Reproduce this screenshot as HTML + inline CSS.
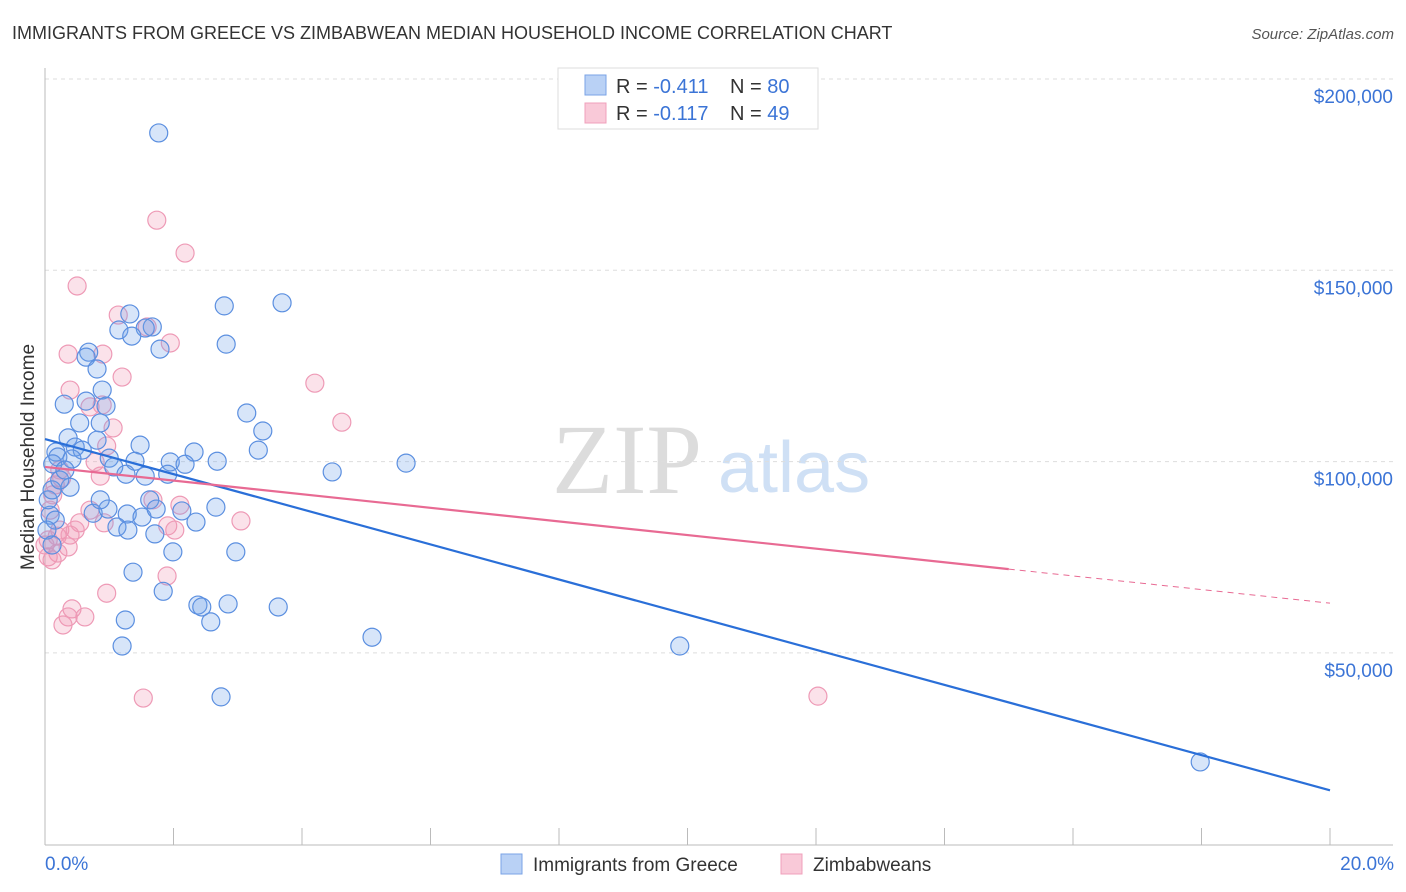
<!DOCTYPE html>
<html><head><meta charset="utf-8"><style>
body{margin:0;background:#fff;font-family:"Liberation Sans",sans-serif}
svg{display:block}
</style></head><body>
<svg width="1406" height="892">
<text x="12" y="39" font-size="18" fill="#333">IMMIGRANTS FROM GREECE VS ZIMBABWEAN MEDIAN HOUSEHOLD INCOME CORRELATION CHART</text>
<text x="1394" y="39" font-size="15" fill="#555" font-style="italic" text-anchor="end">Source: ZipAtlas.com</text>
<g>
<text x="552" y="493" font-family="Liberation Serif,serif" font-size="100" fill="#dcdcdc">ZIP</text>
<text x="718" y="492" font-size="72" fill="#cfe0f5">atlas</text>
</g>
<g id="grid"></g>
<line x1="45" y1="68" x2="45" y2="845" stroke="#bbb"/>
<line x1="45" y1="845" x2="1393" y2="845" stroke="#bbb"/>
<g id="ticks"></g>
<text x="45" y="870" font-size="19" fill="#3b74d6">0.0%</text>
<text x="1394" y="870" font-size="19" fill="#3b74d6" text-anchor="end">20.0%</text>
<text transform="translate(34,457) rotate(-90)" font-size="19" fill="#333" text-anchor="middle">Median Household Income</text>
<g id="pts"></g>
<g id="lines"></g>
<g>
<rect x="558" y="68" width="260" height="61" fill="#fff" stroke="#ddd"/>
<rect x="585" y="75" width="21" height="20" fill="#b9d1f5" stroke="#7aa3e6"/>
<rect x="585" y="103" width="21" height="20" fill="#f9c9d8" stroke="#f0a0bb"/>
<text x="616" y="93" font-size="20" fill="#333">R = <tspan fill="#3b74d6">-0.411</tspan><tspan x="730">N = </tspan><tspan fill="#3b74d6">80</tspan></text>
<text x="616" y="120" font-size="20" fill="#333">R = <tspan fill="#3b74d6"> -0.117</tspan><tspan x="730">N = </tspan><tspan fill="#3b74d6">49</tspan></text>
</g>
<g>
<rect x="501" y="854" width="21" height="20" fill="#b9d1f5" stroke="#7aa3e6"/>
<text x="533" y="871" font-size="19" fill="#333">Immigrants from Greece</text>
<rect x="781" y="854" width="21" height="20" fill="#f9c9d8" stroke="#f0a0bb"/>
<text x="813" y="871" font-size="19" fill="#333">Zimbabweans</text>
</g>
</svg>
<script>
const yTicks=[200000,150000,100000,50000];
const yTickLabels=["$200,000","$150,000","$100,000","$50,000"];
const xTicks=[0,2,4,6,8,10,12,14,16,18,20];
const greeceX=[1.77,2.79,3.69,1.32,1.15,1.67,1.56,1.35,2.82,0.68,1.79,0.64,0.81,0.89,0.30,0.64,0.95,3.14,0.54,0.86,3.39,0.36,0.81,1.48,3.32,0.17,0.47,0.58,2.32,0.20,0.42,1.00,1.40,1.95,2.18,2.68,5.62,1.07,1.26,1.56,1.91,4.47,0.12,0.39,1.63,2.66,0.75,0.98,1.28,2.13,1.51,1.73,0.08,1.12,1.29,1.71,2.35,1.99,2.97,1.37,1.84,2.38,2.44,2.85,3.63,2.58,1.25,5.09,1.20,9.88,2.74,17.98,0.05,0.11,0.16,0.23,0.31,0.86,0.03,0.11];
const greeceY=[185.9,140.7,141.5,138.6,134.4,135.2,134.9,132.8,130.7,128.6,129.4,127.3,124.2,118.7,115.0,115.8,114.5,112.7,110.1,110.1,108.0,106.2,105.6,104.3,103.0,102.5,103.8,103.0,102.5,101.2,100.7,100.9,100.1,99.9,99.3,100.1,99.6,98.6,96.7,96.2,96.7,97.3,99.4,93.3,90.0,88.1,86.5,87.6,86.3,87.1,85.5,87.6,86.0,82.9,82.1,81.1,84.2,76.4,76.4,71.1,66.1,62.5,62.0,62.8,62.0,58.1,58.6,54.1,51.8,51.8,38.5,21.5,90.0,92.6,84.7,95.2,97.8,90.0,82.1,78.2];
const zimX=[1.74,2.18,0.50,1.14,1.59,1.95,0.36,0.90,1.20,4.20,0.39,0.70,0.89,4.62,1.06,0.96,0.78,0.86,0.26,0.16,0.12,0.08,0.54,0.92,1.91,2.02,3.05,0.23,0.19,0.39,0.05,0.36,0.20,0.05,0.96,1.90,0.42,0.36,0.62,0.28,1.53,12.03,1.68,2.10,0.0,0.11,0.70,0.47,0.23];
const zimY=[163.1,154.5,145.9,138.3,135.2,131.0,128.1,128.1,122.1,120.5,118.7,114.3,114.8,110.3,108.8,104.1,99.9,96.2,95.7,93.9,91.3,87.3,84.0,84.0,83.2,82.1,84.5,82.1,80.5,80.8,79.5,77.7,76.1,75.1,65.6,70.1,61.5,59.4,59.4,57.3,38.2,38.7,90.0,88.6,78.2,74.3,87.3,82.1,97.8];
const greeceTrend=[105.9,14.1];
const zimTrend=[98.6,63.0];
const zimSolidEnd=15;
const NS="http://www.w3.org/2000/svg";
function X(p){return 45+p/20*1285;}
function Y(v){return 79+(200000-v)/50000*191.3;}
function mk(t,a,parent){const e=document.createElementNS(NS,t);for(const k in a)e.setAttribute(k,a[k]);parent.appendChild(e);return e;}
const grid=document.getElementById('grid');
yTicks.forEach((v,i)=>{
 const l=mk('line',{x1:45,x2:1393,y1:Y(v),y2:Y(v),stroke:'#ddd','stroke-dasharray':'4,4'},grid);
 
 
 const t=mk('text',{x:1393,y:Y(v)+24,'font-size':19,fill:'#3b74d6','text-anchor':'end'},grid);
 t.textContent=yTickLabels[i];
 
 
});
const ticks=document.getElementById('ticks');
xTicks.forEach(p=>{
 const l=mk('line',{x1:X(p),x2:X(p),y1:828,y2:845,stroke:'#bbb'},ticks);
 
 
});
const pts=document.getElementById('pts');
zimX.forEach((x,i)=>{
 const c=mk('circle',{cx:X(x),cy:Y(zimY[i]*1000),r:9,fill:'rgba(242,150,180,0.28)',stroke:'#ee9ab6','stroke-width':1.2},pts);
 
 
});
greeceX.forEach((x,i)=>{
 const c=mk('circle',{cx:X(x),cy:Y(greeceY[i]*1000),r:9,fill:'rgba(110,160,235,0.28)',stroke:'#5b8fe0','stroke-width':1.2},pts);
 
 
});
const lines=document.getElementById('lines');
const bl=mk('line',{x1:X(0),y1:Y(greeceTrend[0]*1000),x2:X(20),y2:Y(greeceTrend[1]*1000),stroke:'#2a6fd8','stroke-width':2.2},lines);


const zAt=p=>zimTrend[0]+(zimTrend[1]-zimTrend[0])*p/20;
const pl=mk('line',{x1:X(0),y1:Y(zimTrend[0]*1000),x2:X(zimSolidEnd),y2:Y(zAt(zimSolidEnd)*1000),stroke:'#e86a93','stroke-width':2.2},lines);


const pd=mk('line',{x1:X(zimSolidEnd),y1:Y(zAt(zimSolidEnd)*1000),x2:X(20),y2:Y(zimTrend[1]*1000),stroke:'#e86a93','stroke-width':1,'stroke-dasharray':'6,5'},lines);


</script>
</body></html>
